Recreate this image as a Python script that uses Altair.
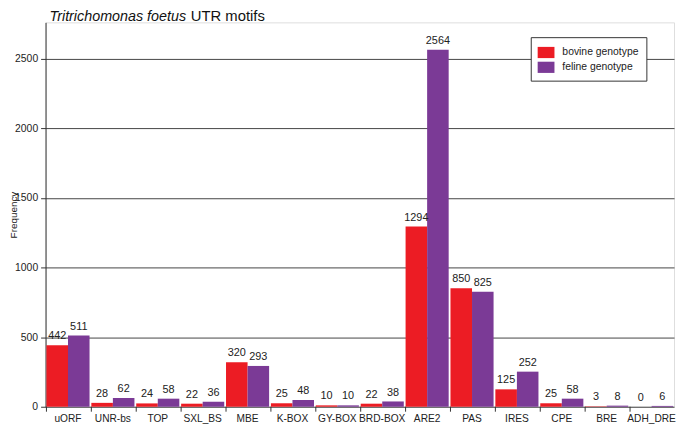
import altair as alt
import pandas as pd

motifs = ["uORF", "UNR-bs", "TOP", "SXL_BS", "MBE", "K-BOX", "GY-BOX", "BRD-BOX",
          "ARE2", "PAS", "IRES", "CPE", "BRE", "ADH_DRE"]
bovine = [442, 28, 24, 22, 320, 25, 10, 22, 1294, 850, 125, 25, 3, 0]
feline = [511, 62, 58, 36, 293, 48, 10, 38, 2564, 825, 252, 58, 8, 6]
series = ["bovine genotype", "feline genotype"]
colors = ["#EC1C24", "#7B3A96"]
yticks = [0, 500, 1000, 1500, 2000, 2500]

rows = []
for i, m in enumerate(motifs):
    rows.append({"motif": m, "genotype": series[0], "value": bovine[i]})
    rows.append({"motif": m, "genotype": series[1], "value": feline[i]})
df = pd.DataFrame(rows)

FONT = "Liberation Sans"
W, H = 636, 389

xscale = alt.Scale(domain=motifs, paddingInner=0.04, paddingOuter=0.02)
yscale = alt.Scale(domain=[0, 2760], nice=False)

base = alt.Chart(df)

bars = base.mark_bar().encode(
    x=alt.X("motif:N", scale=xscale, sort=motifs,
            axis=alt.Axis(title=None, labelAngle=0, ticks=False, domain=False,
                          labelFont=FONT, labelFontSize=10.3, labelColor="#222",
                          labelPadding=7)),
    xOffset=alt.XOffset("genotype:N", sort=series),
    y=alt.Y("value:Q", scale=yscale,
            axis=alt.Axis(title="Frequency", values=yticks, grid=True, format="d",
                          gridColor="#444", gridOpacity=1, gridWidth=1,
                          domainColor="#333", tickColor="#333", tickSize=5,
                          labelFont=FONT, labelFontSize=10.5, labelColor="#222",
                          labelPadding=3,
                          titleFont=FONT, titleFontSize=10, titleFontWeight="normal",
                          titleColor="#222", titleX=-27, titleY=H / 2,
                          titleAngle=270, titleBaseline="bottom", titleAlign="center")),
    color=alt.Color("genotype:N", sort=series,
                    scale=alt.Scale(domain=series, range=colors),
                    legend=alt.Legend(title=None, orient="none", legendX=491, legendY=15,
                                      strokeColor="#333", padding=7, fillColor="white",
                                      labelFont=FONT, labelFontSize=10.5, labelColor="#222",
                                      labelExpr="datum.label + '\u00a0\u00a0\u00a0\u00a0'",
                                      symbolType="M-1,-0.667H1V0.667H-1Z", symbolSize=289,
                                      symbolStrokeWidth=0, rowPadding=0,
                                      labelOffset=8)),
)

labels = base.mark_text(dy=-6, baseline="alphabetic", font=FONT, fontSize=11,
                        color="#222").encode(
    x=alt.X("motif:N", scale=xscale, sort=motifs),
    xOffset=alt.XOffset("genotype:N", sort=series),
    y=alt.Y("value:Q", scale=yscale),
    text=alt.Text("value:Q"),
)

tick_df = pd.DataFrame({"motif": motifs})
xticks = alt.Chart(tick_df).mark_rule(color="#333", strokeWidth=1).encode(
    x=alt.X("motif:N", scale=xscale, sort=motifs, bandPosition=0),
    y=alt.value(H),
    y2=alt.value(H + 5),
)

title_df = pd.DataFrame({"a": ["Tritrichomonas foetus"], "b": ["UTR motifs"]})
t1 = alt.Chart(title_df).mark_text(font=FONT, fontSize=14.5, fontStyle="italic",
                                   align="left", baseline="alphabetic", color="#111").encode(
    x=alt.value(4), y=alt.value(-1.5), text="a:N")
t2 = alt.Chart(title_df).mark_text(font=FONT, fontSize=15,
                                   align="left", baseline="alphabetic", color="#111").encode(
    x=alt.value(147), y=alt.value(-1.5), text="b:N")

chart = alt.layer(bars, labels, xticks, t1, t2).properties(
    width=W, height=H,
    autosize=alt.AutoSizeParams(type="none"),
    padding={"left": 38, "top": 12, "right": 3, "bottom": 21},
).configure_view(stroke="#333", strokeWidth=1).configure(background="white")

chart.save("out.html", embed_options={"renderer": "svg", "actions": False})
